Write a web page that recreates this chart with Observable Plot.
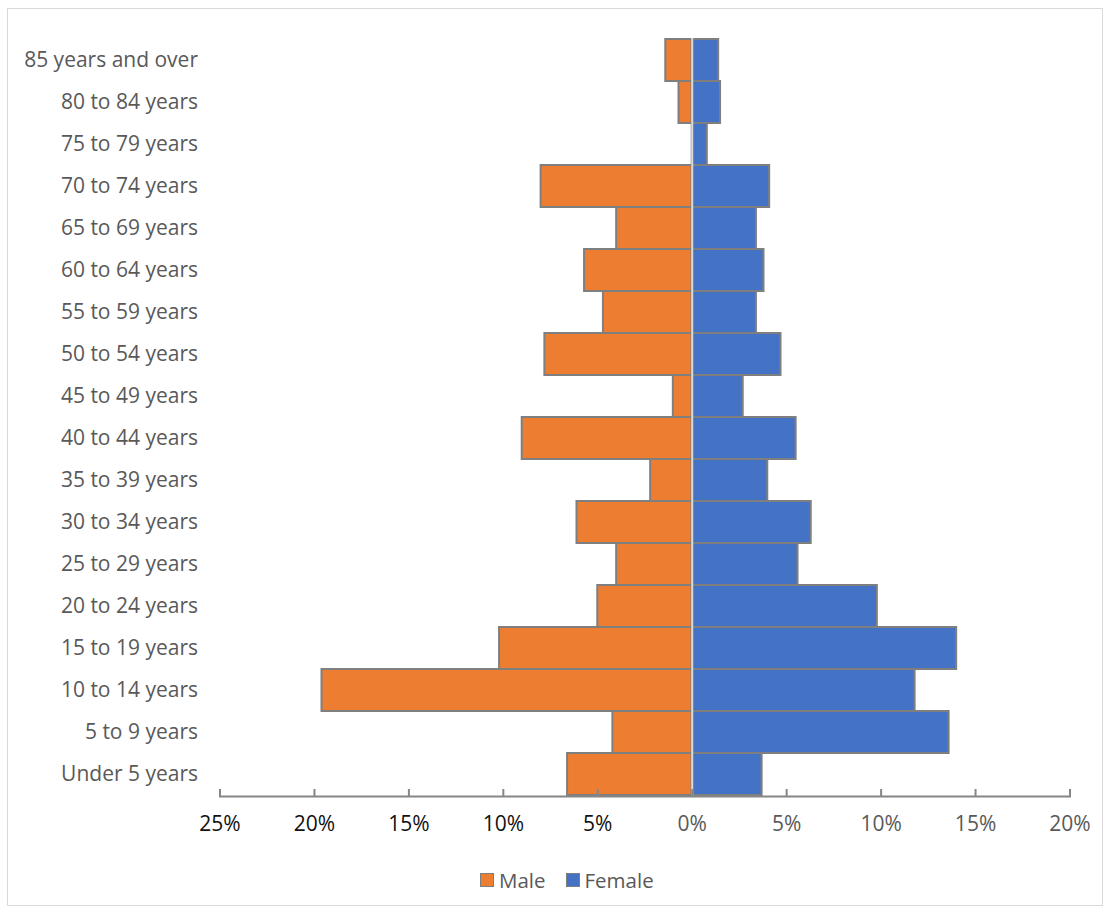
<!DOCTYPE html>
<html>
<head>
<meta charset="utf-8">
<script src="https://cdn.jsdelivr.net/npm/d3@7"></script>
<script src="https://cdn.jsdelivr.net/npm/@observablehq/plot@0.6"></script>
<style>
  html, body { margin: 0; padding: 0; background: #fff; }
  #wrap { position: relative; width: 1109px; height: 912px; font-family: "Open Sans", sans-serif; }
  #border { position: absolute; left: 7px; top: 8px; width: 1094px; height: 896px; border: 1px solid #d9d9d9; pointer-events: none; }
  #chart { position: absolute; left: 0; top: 0; }
  #legend { position: absolute; left: 480px; top: 867px; display: flex; align-items: center; gap: 0; font-size: 20.5px; color: #595959; line-height: 26px; }
  .item { display: flex; align-items: center; margin-right: 20px; }
  .sw { width: 12px; height: 12px; border: 1px solid #7f7f7f; margin-right: 5px; }
</style>
</head>
<body>
<div id="wrap">
  <div id="chart"></div>
  <div id="legend"></div>
  <div id="border"></div>
</div>
<script>
// Age groups, top of the pyramid first
const ageGroups = [
  "85 years and over", "80 to 84 years", "75 to 79 years", "70 to 74 years",
  "65 to 69 years", "60 to 64 years", "55 to 59 years", "50 to 54 years",
  "45 to 49 years", "40 to 44 years", "35 to 39 years", "30 to 34 years",
  "25 to 29 years", "20 to 24 years", "15 to 19 years", "10 to 14 years",
  "5 to 9 years", "Under 5 years"
];
// Share of each sex in each age group (percent)
const maleShare = [1.4, 0.7, 0.0, 8.0, 4.0, 5.7, 4.7, 7.8, 1.0, 9.0, 2.2, 6.1, 4.0, 5.0, 10.2, 19.6, 4.2, 6.6];
const femaleShare = [1.4, 1.5, 0.8, 4.1, 3.4, 3.8, 3.4, 4.7, 2.7, 5.5, 4.0, 6.3, 5.6, 9.8, 14.0, 11.8, 13.6, 3.7];
// Axis ticks, percent
const leftTicks = [-25, -20, -15, -10, -5];
const rightTicks = [0, 5, 10, 15, 20];
const seriesNames = ["Male", "Female"];
const seriesColors = ["#ED7D31", "#4472C4"];

const male = ageGroups.map((age, i) => ({age, value: -maleShare[i]}));
const female = ageGroups.map((age, i) => ({age, value: femaleShare[i]}));

const fmt = d => Math.abs(d) + "%";
const font = {fontFamily: "'Open Sans', sans-serif", fontSize: 21};

const chart = Plot.plot({
  width: 1109,
  height: 850,
  marginLeft: 219.5,
  marginRight: 39.5,
  marginTop: 38,
  marginBottom: 54,
  style: {fontFamily: "'Open Sans', sans-serif", background: "transparent"},
  x: {domain: [-25, 20]},
  y: {domain: ageGroups, paddingInner: 0, paddingOuter: 0},
  marks: [
    Plot.barX(male, {x: "value", y: "age", fill: seriesColors[0], stroke: "#7f7f7f", strokeWidth: 2, insetTop: 0, insetBottom: 0}),
    Plot.barX(female, {x: "value", y: "age", fill: seriesColors[1], stroke: "#7f7f7f", strokeWidth: 2, insetTop: 0, insetBottom: 0}),
    Plot.ruleX([0], {stroke: "#d9d9d9", strokeWidth: 2}),
    Plot.frame({anchor: "bottom", stroke: "#868686", strokeWidth: 2}),
    Plot.axisX({ticks: leftTicks, tickSize: -7, tickPadding: 27, stroke: "#868686", strokeWidth: 2, tickFormat: fmt, fill: "#111", ...font, label: null}),
    Plot.axisX({ticks: rightTicks, tickSize: -7, tickPadding: 27, stroke: "#868686", strokeWidth: 2, tickFormat: fmt, fill: "#595959", ...font, label: null}),
    Plot.axisX({ticks: [-25, 20], tickSize: -7, stroke: "#868686", strokeWidth: 2, tickFormat: () => "", label: null}),
    Plot.axisY({anchor: "left", tickSize: 0, tickPadding: 22, fill: "#595959", ...font, label: null})
  ]
});
document.getElementById("chart").appendChild(chart);

const legend = document.getElementById("legend");
seriesNames.forEach((name, i) => {
  const item = document.createElement("div");
  item.className = "item";
  const sw = document.createElement("div");
  sw.className = "sw";
  sw.style.background = seriesColors[i];
  const label = document.createElement("span");
  label.textContent = name;
  item.appendChild(sw);
  item.appendChild(label);
  legend.appendChild(item);
});
</script>
</body>
</html>
